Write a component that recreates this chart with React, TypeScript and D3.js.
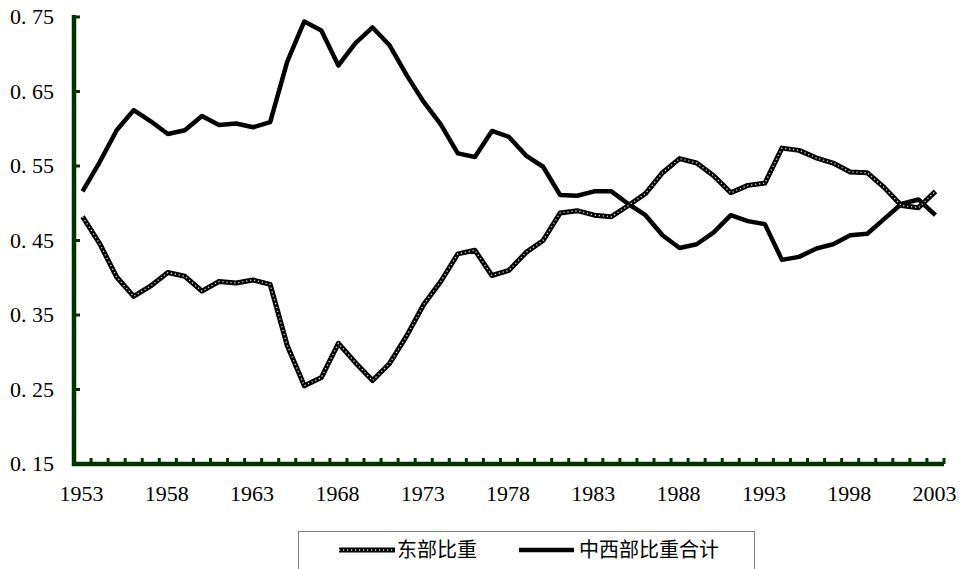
import React, { useEffect, useRef } from "react";
import * as d3 from "d3";

const years: number[] = [
  1953, 1954, 1955, 1956, 1957, 1958, 1959, 1960, 1961, 1962,
  1963, 1964, 1965, 1966, 1967, 1968, 1969, 1970, 1971, 1972,
  1973, 1974, 1975, 1976, 1977, 1978, 1979, 1980, 1981, 1982,
  1983, 1984, 1985, 1986, 1987, 1988, 1989, 1990, 1991, 1992,
  1993, 1994, 1995, 1996, 1997, 1998, 1999, 2000, 2001, 2002, 2003,
];

const eastShare: number[] = [
  0.482, 0.446, 0.401, 0.375, 0.389, 0.407, 0.402, 0.382, 0.395, 0.393,
  0.397, 0.391, 0.309, 0.255, 0.266, 0.312, 0.286, 0.262, 0.285, 0.322,
  0.364, 0.395, 0.432, 0.437, 0.403, 0.410, 0.434, 0.450, 0.487, 0.490,
  0.484, 0.482, 0.497, 0.513, 0.541, 0.560, 0.554, 0.537, 0.514, 0.524,
  0.527, 0.574, 0.571, 0.561, 0.554, 0.542, 0.541, 0.521, 0.497, 0.494, 0.516,
];

const centralWestShare: number[] = [
  0.516, 0.555, 0.598, 0.625, 0.610, 0.593, 0.598, 0.617, 0.605, 0.607,
  0.602, 0.609, 0.690, 0.744, 0.732, 0.685, 0.715, 0.736, 0.712, 0.672,
  0.636, 0.606, 0.567, 0.562, 0.597, 0.589, 0.564, 0.549, 0.511, 0.510,
  0.516, 0.516, 0.499, 0.484, 0.457, 0.440, 0.445, 0.461, 0.484, 0.476,
  0.472, 0.424, 0.428, 0.439, 0.445, 0.457, 0.459, 0.479, 0.499, 0.505, 0.484,
];

const yTicks: number[] = [0.15, 0.25, 0.35, 0.45, 0.55, 0.65, 0.75];
const xLabelYears: number[] = [1953, 1958, 1963, 1968, 1973, 1978, 1983, 1988, 1993, 1998, 2003];
const seriesNames: string[] = ["东部比重", "中西部比重合计"];

const W = 961;
const H = 569;
const AXIS = "#003300";
const SERIF = "'Liberation Serif', 'DejaVu Serif', serif";
const CJK = "'Noto Sans CJK SC', sans-serif";

export default function App() {
  const ref = useRef<SVGSVGElement>(null);

  useEffect(() => {
    const svg = d3.select(ref.current);
    svg.selectAll("*").remove();

    const left = 74, right = 944, top = 17, bottom = 464;
    const x = d3.scalePoint<number>().domain(years).range([left, right]).padding(0.5);
    const y = d3.scaleLinear().domain([0.15, 0.75]).range([bottom, top]);
    const step = x.step();

    const line = d3.line<number>()
      .x((_, i) => x(years[i]) as number)
      .y((d) => y(d));

    // central-west solid line
    svg.append("path")
      .attr("d", line(centralWestShare) || "")
      .attr("fill", "none")
      .attr("stroke", "#000")
      .attr("stroke-width", 4.5)
      .attr("stroke-linejoin", "round");

    // east dotted line
    svg.append("path")
      .attr("d", line(eastShare) || "")
      .attr("fill", "none")
      .attr("stroke", "#000")
      .attr("stroke-width", 5)
      .attr("stroke-linejoin", "round");
    svg.append("path")
      .attr("d", line(eastShare) || "")
      .attr("fill", "none")
      .attr("stroke", "#d8d8d8")
      .attr("stroke-width", 1.4)
      .attr("stroke-dasharray", "1.2 2.8");

    // Y axis
    const ya = svg.append("g");
    ya.append("line")
      .attr("x1", left).attr("x2", left)
      .attr("y1", top - 2).attr("y2", bottom + 2)
      .attr("stroke", AXIS).attr("stroke-width", 4.5);
    yTicks.forEach((t) => {
      ya.append("line")
        .attr("x1", left).attr("x2", left + 6)
        .attr("y1", y(t)).attr("y2", y(t))
        .attr("stroke", AXIS).attr("stroke-width", 3);
      const [a, b] = t.toFixed(2).split(".");
      const tx = ya.append("text")
        .attr("x", 10).attr("y", y(t)).attr("dy", "0.34em")
        .attr("text-anchor", "start")
        .attr("font-family", SERIF)
        .attr("font-size", 22)
        .attr("fill", "#000");
      tx.append("tspan").text(a + ".");
      tx.append("tspan").attr("dx", 5.5).text(b);
    });

    // X axis
    const xa = svg.append("g");
    xa.append("line")
      .attr("x1", left - 2).attr("x2", right)
      .attr("y1", bottom).attr("y2", bottom)
      .attr("stroke", AXIS).attr("stroke-width", 4.5);
    years.forEach((yr) => {
      const bx = (x(yr) as number) + step / 2;
      xa.append("line")
        .attr("x1", bx).attr("x2", bx)
        .attr("y1", bottom).attr("y2", bottom - 6)
        .attr("stroke", AXIS).attr("stroke-width", 3);
    });
    xLabelYears.forEach((yr) => {
      xa.append("text")
        .attr("x", (x(yr) as number) - 1)
        .attr("y", 500.5)
        .attr("text-anchor", "middle")
        .attr("font-family", SERIF)
        .attr("font-size", 22)
        .attr("fill", "#000")
        .text(String(yr));
    });

    // Legend
    const lg = svg.append("g");
    lg.append("rect")
      .attr("x", 298.5).attr("y", 531.5)
      .attr("width", 456).attr("height", 60)
      .attr("fill", "#fff").attr("stroke", "#808080").attr("stroke-width", 1);
    const ly = 550;
    lg.append("line").attr("x1", 339).attr("x2", 395).attr("y1", ly).attr("y2", ly)
      .attr("stroke", "#000").attr("stroke-width", 5);
    lg.append("line").attr("x1", 339).attr("x2", 395).attr("y1", ly).attr("y2", ly)
      .attr("stroke", "#d8d8d8").attr("stroke-width", 1.4).attr("stroke-dasharray", "1.2 2.8");
    lg.append("text").attr("x", 397).attr("y", ly).attr("dy", "0.36em")
      .attr("font-family", CJK).attr("font-size", 20)
      .attr("fill", "#000").text(seriesNames[0]);
    lg.append("line").attr("x1", 519).attr("x2", 574).attr("y1", ly).attr("y2", ly)
      .attr("stroke", "#000").attr("stroke-width", 4.5);
    lg.append("text").attr("x", 579).attr("y", ly).attr("dy", "0.36em")
      .attr("font-family", CJK).attr("font-size", 20)
      .attr("fill", "#000").text(seriesNames[1]);
  }, []);

  return (
    <svg
      ref={ref}
      width={W}
      height={H}
      style={{ position: "absolute", left: 0, top: 0, display: "block", background: "#fff" }}
    />
  );
}
